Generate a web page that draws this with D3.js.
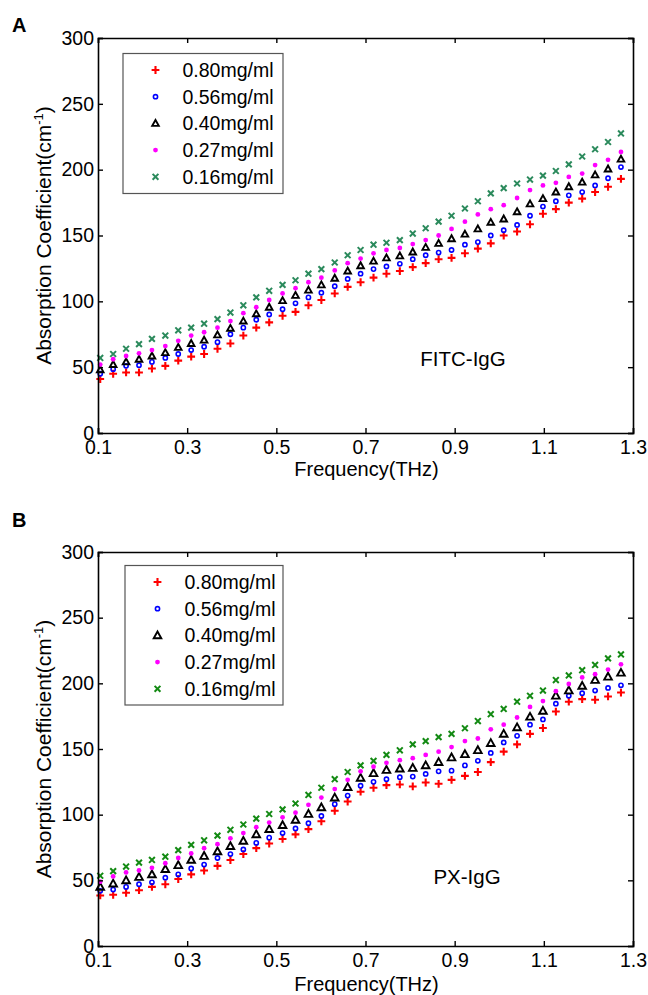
<!DOCTYPE html>
<html><head><meta charset="utf-8">
<script src="https://cdn.jsdelivr.net/npm/d3@7"></script>
<style>
body{margin:0;background:#fff}
svg{display:block}
text{font-family:"Liberation Sans",Arial,Helvetica,sans-serif;fill:#000}
</style>
</head><body>
<svg id="chart" width="648" height="995"></svg>
<script>
// ---------- data ----------
const freq = [0.105,0.134,0.163,0.192,0.221,0.251,0.280,0.309,0.338,0.368,0.397,0.426,0.455,0.484,0.514,0.543,0.572,0.601,0.631,0.660,0.689,0.718,0.747,0.777,0.806,0.835,0.864,0.893,0.923,0.952,0.981,1.010,1.040,1.069,1.098,1.127,1.156,1.186,1.215,1.244,1.273];
const seriesLabels = ["0.80mg/ml","0.56mg/ml","0.40mg/ml","0.27mg/ml","0.16mg/ml"];
const xTicks = [0.1,0.3,0.5,0.7,0.9,1.1,1.3];
const yTicks = [0,50,100,150,200,250,300];

// Panel A : FITC-IgG
const fitc080 = [41,45,46,46,49,51,55,58,60,64,68,74,80,84,89,92,97,101,106,111,114.5,118,121,123,126,129,132,133,136.5,140,144,150,153,158.5,166.5,170,175,178,183,187,193];
const fitc056 = [45,48.5,51,51.5,54,57,60,63,65.5,69,75,80,86,90,94,98.5,103,106.5,111.5,117,121,124.5,126.5,128.5,132,135,137,139,143,145,150,154,158,165,172,176,180.5,183,188,193.5,202];
const fitc040 = [48,52,54,56,58.5,61,65,68,70.5,74.5,79.5,85,90.5,95.5,100.5,104.5,108.5,112.5,117.5,123,127,130.5,133,134.5,137.5,141,144,147.5,151,155,160,162.5,168,174,178,183,187,190.5,196,200.5,208];
const fitc027 = [52,56,58.5,60.5,63,66,70,74,76.5,80,85,91,95.5,101,106,110,114.5,118,123.5,129,132.5,136.5,139,140.5,143.5,146.5,150,155,160.5,166,170,173,178.5,184.5,188,190,194.5,197,203.5,207.5,213.5];
const fitc016 = [57,60,64,67.5,71.5,74,78,80,83,86.5,91.5,97,103,108,112.5,116,121,124.5,129.5,135,139,143,144.5,146.5,151.5,155.5,160.5,165,170.5,176,182,186,189.5,192.5,195.5,199,204,210,215.5,221,227.5];

// Panel B : PX-IgG
const px080 = [38.5,39,40.5,42.5,45,47,51,54.5,57.5,61,65.5,70,74.5,78,81.5,85,89,95,103,110,117.5,120.5,122.5,123,121.5,124.5,123.5,126.5,129.5,132.5,140,148,153.5,161.5,166,178.5,186,188,187.5,190,193];
const px056 = [42,43,45,47,48.5,52,54.5,59,62,67,70,73.5,78.5,82.5,86,89.5,93.5,99,108,114.5,122,125,127,128.5,129,131,133,133.5,137.5,141,147,155,160,168.5,172.5,184.5,190.5,192.5,194.5,196.5,198.5];
const px040 = [45,47.5,50,52.5,54.5,58.5,61.5,65.5,68.5,72,76,80,85,89,92,96,100.5,105.5,113,121,128,131.5,134,135,135.5,137.5,140,143.5,146,149,154.5,161.5,166.5,174.5,179,190.5,194.5,198,202.5,205,208];
const px027 = [49,53,56,57.5,59.5,63,67,70.5,74.5,77.5,82,86,90.5,94,98,101.5,107.5,113,119.5,126.5,133,136.5,139.5,141.5,143,145.5,148,151.5,156,158,165,168.5,174,182,186.5,194,199.5,204.5,207,210.5,214.5];
const px016 = [53.5,57,60.5,63.5,65.5,68,73,77,80.5,84,88.5,92.5,97,100.5,104,108.5,115,120.5,127,132.5,137.5,141,145.5,149,153.5,156,159,161.5,165.8,171.3,176.5,180.5,186,190.5,194.5,202.5,206,210,214,219,222];

// ---------- styles ----------
const markerTypes = ["plus","circle","triangle","dot","times"];
const panels = [
  {letter:"A", name:"FITC-IgG", series:[fitc080,fitc056,fitc040,fitc027,fitc016],
   colors:["#ff0000","#0000ff","#000000","#ff00ff","#2b8a5c"],
   top:38, bottom:433, legend:{x:123,y:53.5,w:160,h:140}, nameX:463, nameY:366,
   letterY:32, titleY:476},
  {letter:"B", name:"PX-IgG", series:[px080,px056,px040,px027,px016],
   colors:["#ff0000","#0000ff","#000000","#ff00ff","#138a13"],
   top:552, bottom:946, legend:{x:125,y:565.5,w:158,h:139.5}, nameX:467, nameY:884,
   letterY:527, titleY:991}
];
const left = 98, right = 633;
const svg = d3.select("#chart");

function marker(sel, type, color, k){
  k = k || 1;
  if(type==="plus"){
    const s=3.9*k;
    sel.append("path").attr("d",`M${-s},0H${s}M0,${-s}V${s}`)
      .attr("stroke",color).attr("stroke-width",2.1).attr("fill","none");
  } else if(type==="times"){
    const s=2.9*k;
    sel.append("path").attr("d",`M${-s},${-s}L${s},${s}M${-s},${s}L${s},${-s}`)
      .attr("stroke",color).attr("stroke-width",2).attr("fill","none");
  } else if(type==="circle"){
    sel.append("circle").attr("r",2.1*k).attr("fill","none")
      .attr("stroke",color).attr("stroke-width",1.6);
  } else if(type==="triangle"){
    const s=3.3*k;
    sel.append("path").attr("d",`M0,${-s*1.05}L${s},${s*0.75}L${-s},${s*0.75}Z`)
      .attr("stroke",color).attr("stroke-width",1.9).attr("fill","none");
  } else if(type==="dot"){
    sel.append("circle").attr("r",2.4*k).attr("fill",color);
  }
}

panels.forEach((p,pi)=>{
  const x = d3.scaleLinear().domain([0.1,1.3]).range([left,right]);
  const y = d3.scaleLinear().domain([0,300]).range([p.bottom,p.top]);
  const g = svg.append("g");

  // data markers
  p.series.forEach((vals,si)=>{
    const sg = g.append("g");
    vals.forEach((v,i)=>{
      const m = sg.append("g").attr("transform",`translate(${x(freq[i])},${y(v)})`);
      marker(m, markerTypes[si], p.colors[si], pi===1 && si===2 ? 1.15 : 1);
    });
  });

  // axes (ticks inward on all four sides)
  const fs = "19.5px";
  const ax = g.append("g").attr("transform",`translate(0,${p.bottom})`)
    .call(d3.axisBottom(x).tickValues(xTicks).tickSize(-5).tickPadding(7).tickFormat(d3.format(".1f")));
  const axT = g.append("g").attr("transform",`translate(0,${p.top})`)
    .call(d3.axisTop(x).tickValues(xTicks).tickSize(-5).tickFormat(""));
  const ayL = g.append("g").attr("transform",`translate(${left},0)`)
    .call(d3.axisLeft(y).tickValues(yTicks).tickSize(-5).tickPadding(4));
  const ayR = g.append("g").attr("transform",`translate(${right},0)`)
    .call(d3.axisRight(y).tickValues(yTicks).tickSize(-5).tickFormat(""));
  [ax,axT,ayL,ayR].forEach(a=>{
    a.select(".domain").attr("stroke","#000").attr("stroke-width",1.6);
    a.selectAll(".tick line").attr("stroke","#000").attr("stroke-width",1.4);
    a.selectAll("text").attr("font-size",fs).attr("font-family","Liberation Sans, Arial, sans-serif").attr("fill","#111");
  });

  // axis titles
  g.append("text").attr("x",(left+right)/2+1).attr("y",p.titleY)
    .attr("text-anchor","middle").attr("font-size","20px").attr("fill","#111").text("Frequency(THz)");
  const yt = g.append("text").attr("transform",`translate(51,${(p.top+p.bottom)/2}) rotate(-90)`)
    .attr("text-anchor","middle").attr("font-size","21px").attr("fill","#111");
  yt.append("tspan").text("Absorption Coefficient(cm");
  yt.append("tspan").attr("font-size","13px").attr("dy","-8").text("-1");
  yt.append("tspan").attr("dy","8").text(")");

  // panel letter
  g.append("text").attr("x",12).attr("y",p.letterY).attr("font-size","20px")
    .attr("font-weight","bold").text(p.letter);

  // sample name
  g.append("text").attr("x",p.nameX).attr("y",p.nameY).attr("text-anchor","middle")
    .attr("font-size","20.5px").attr("fill","#111").text(p.name);

  // legend
  const L = p.legend;
  const lg = g.append("g");
  lg.append("rect").attr("x",L.x).attr("y",L.y).attr("width",L.w).attr("height",L.h)
    .attr("fill","#fff").attr("stroke","#555").attr("stroke-width",1.2);
  seriesLabels.forEach((lab,si)=>{
    const ry = L.y + 16.5 + si*26.7;
    const m = lg.append("g").attr("transform",`translate(${L.x+32.5},${ry})`);
    marker(m, markerTypes[si], p.colors[si], pi===1 && si===2 ? 1.15 : 1);
    lg.append("text").attr("x",L.x+59.5).attr("y",ry+7).attr("font-size","19.5px")
      .attr("fill","#111").text(lab);
  });
});
</script>
</body></html>
